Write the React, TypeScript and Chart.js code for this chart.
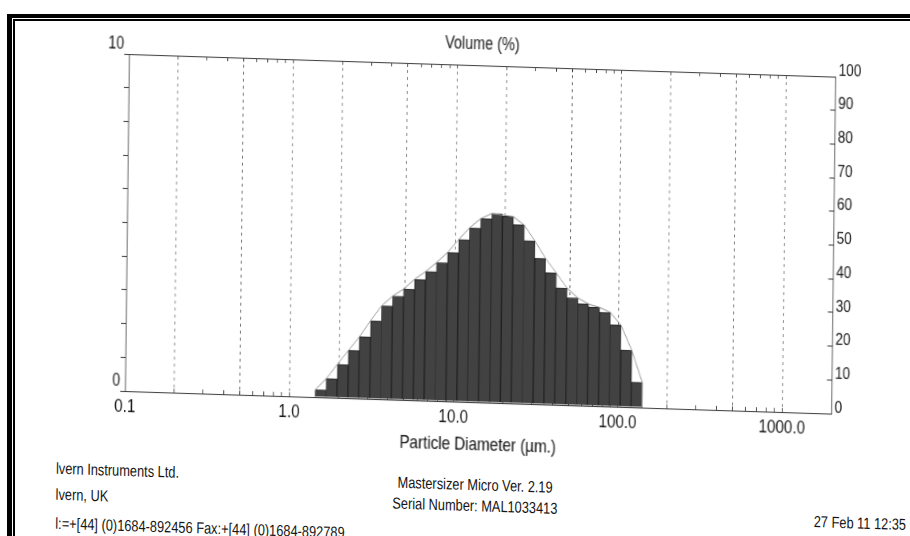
import React, { useEffect, useRef } from "react";
import { Chart, registerables } from "chart.js";

Chart.register(...registerables);

// ---- data ----
// Mastersizer size-band edges (µm)
const BIN_EDGES = [
  1.44, 1.68, 1.95, 2.28, 2.65, 3.09, 3.6, 4.19, 4.88, 5.69, 6.63, 7.72, 9.0,
  10.48, 12.21, 14.22, 16.57, 19.31, 22.49, 26.2, 30.53, 35.56, 41.43, 48.27,
  56.23, 65.51, 76.32, 88.91, 103.58, 120.67, 140.58,
];
// Volume (%) in each band
const VOLUME = [
  0.22, 0.56, 0.99, 1.42, 1.83, 2.32, 2.77, 3.07, 3.29, 3.59, 3.83, 4.11, 4.42,
  4.81, 5.17, 5.45, 5.61, 5.54, 5.3, 4.84, 4.33, 3.91, 3.47, 3.19, 3.02, 2.93,
  2.79, 2.42, 1.69, 0.75,
];
const X_TICKS = [
  0.1, 0.2, 0.3, 0.4, 0.5, 0.6, 0.7, 0.8, 0.9, 1, 2, 3, 4, 5, 6, 7, 8, 9, 10,
  20, 30, 40, 50, 60, 70, 80, 90, 100, 200, 300, 400, 500, 600, 700, 800, 900,
  1000, 2000,
];
const X_GRID = [0.2, 0.5, 1, 2, 5, 10, 20, 50, 100, 200, 500, 1000];
const X_LABELS: Record<string, string> = {
  "0.1": "0.1",
  "1": "1.0",
  "10": "10.0",
  "100": "100.0",
  "1000": "1000.0",
};
const LEFT_TICKS = [0, 1, 2, 3, 4, 5, 6, 7, 8, 9, 10];
const LEFT_LABELS: Record<string, string> = { "0": "0", "10": "10" };
const RIGHT_TICKS = [0, 10, 20, 30, 40, 50, 60, 70, 80, 90, 100];
const Y_TITLE = "Volume (%)";
const X_TITLE = "Particle Diameter (µm.)";
const FOOTER_LEFT = [
  "lvern Instruments Ltd.",
  "lvern, UK",
  "l:=+[44] (0)1684-892456 Fax:+[44] (0)1684-892789",
];
const FOOTER_CENTER = ["Mastersizer Micro Ver. 2.19", "Serial Number: MAL1033413"];
const FOOTER_DATE = "27 Feb 11 12:35";

const FONT = "'Liberation Sans', Arial, sans-serif";
const INK = "#151515";
const AXIS = "#3a3a3a";

const fix = (w?: number, h?: number) => (s: any) => {
  if (w !== undefined) s.width = w;
  if (h !== undefined) s.height = h;
  s.paddingLeft = 0;
  s.paddingRight = 0;
  s.paddingTop = 0;
  s.paddingBottom = 0;
};

function MastersizerChart() {
  const ref = useRef<HTMLCanvasElement | null>(null);
  useEffect(() => {
    if (!ref.current) return;
    Chart.defaults.font.family = FONT;
    Chart.defaults.color = INK;

    const bars = VOLUME.map((v, i) => ({
      x: Math.sqrt(BIN_EDGES[i] * BIN_EDGES[i + 1]),
      y: v,
    }));
    const peak = VOLUME.indexOf(Math.max(...VOLUME));
    const outline = [
      { x: BIN_EDGES[0], y: 0 },
      ...VOLUME.map((v, i) => ({
        x: i <= peak ? BIN_EDGES[i] : BIN_EDGES[i + 1],
        y: v,
      })),
      { x: BIN_EDGES[BIN_EDGES.length - 1], y: 0 },
    ];

    const logTicks = (s: any) => {
      s.ticks = X_TICKS.map((v) => ({ value: v }));
    };

    const chart = new Chart(ref.current, {
      type: "bar",
      data: {
        datasets: [
          {
            type: "line",
            data: outline,
            xAxisID: "x",
            yAxisID: "y",
            borderColor: "#8c8c8c",
            borderWidth: 1,
            pointRadius: 0,
            fill: false,
            tension: 0,
            order: 0,
          } as any,
          {
            type: "bar",
            data: bars,
            xAxisID: "x",
            yAxisID: "y",
            backgroundColor: "#424242",
            borderColor: "#1e1e1e",
            borderWidth: 1,
            barThickness: "flex",
            categoryPercentage: 1,
            barPercentage: 1,
            order: 1,
          } as any,
        ],
      },
      options: {
        responsive: false,
        animation: false,
        events: [],
        layout: { padding: 0 },
        plugins: {
          legend: { display: false },
          title: { display: false },
          tooltip: { enabled: false },
        },
        scales: {
          x: {
            type: "logarithmic",
            position: "bottom",
            min: 0.1,
            max: 2000,
            offset: false,
            afterBuildTicks: logTicks,
            afterFit: fix(undefined, 69),
            grid: {
              offset: false,
              drawOnChartArea: true,
              color: (c: any) =>
                c.tick && X_GRID.includes(c.tick.value) ? "#6e6e6e" : "rgba(0,0,0,0)",
              lineWidth: 1,
              tickColor: AXIS,
              tickLength: -4,
            },
            border: { display: true, color: AXIS, width: 1, dash: [3, 4] },
            ticks: {
              autoSkip: false,
              maxRotation: 0,
              minRotation: 0,
              padding: 8,
              font: { size: 19 },
              color: INK,
              callback: (v: any) => X_LABELS[String(v)] ?? "",
            },
            title: {
              display: true,
              text: X_TITLE,
              font: { size: 19 },
              color: INK,
              padding: { top: 0, bottom: 15 },
            },
          } as any,
          x2: {
            type: "logarithmic",
            position: "top",
            min: 0.1,
            max: 2000,
            offset: false,
            afterBuildTicks: logTicks,
            afterFit: fix(undefined, 54),
            grid: {
              offset: false,
              drawOnChartArea: false,
              tickColor: AXIS,
              tickLength: -4,
            },
            border: { display: true, color: AXIS, width: 1 },
            ticks: { display: false, autoSkip: false },
            title: {
              display: true,
              text: Y_TITLE,
              font: { size: 18 },
              color: INK,
              padding: { top: 22, bottom: 0 },
            },
          } as any,
          y: {
            type: "linear",
            position: "left",
            min: 0,
            max: 10,
            afterBuildTicks: (s: any) => {
              s.ticks = LEFT_TICKS.map((v) => ({ value: v }));
            },
            afterFit: fix(162, undefined),
            grid: {
              drawOnChartArea: false,
              tickColor: AXIS,
              tickLength: 6,
            },
            border: { display: true, color: AXIS, width: 1 },
            ticks: {
              autoSkip: false,
              padding: 0,
              labelOffset: -10,
              font: { size: 18 },
              color: INK,
              callback: (v: any) => LEFT_LABELS[String(v)] ?? "",
            },
          } as any,
          y2: {
            type: "linear",
            position: "right",
            min: 0,
            max: 100,
            afterBuildTicks: (s: any) => {
              s.ticks = RIGHT_TICKS.map((v) => ({ value: v }));
            },
            afterFit: fix(95, undefined),
            grid: {
              drawOnChartArea: false,
              tickColor: AXIS,
              tickLength: -6,
            },
            border: { display: true, color: AXIS, width: 1 },
            ticks: {
              autoSkip: false,
              padding: 10,
              labelOffset: -6,
              font: { size: 17 },
              color: INK,
              callback: (v: any) => String(v),
            },
          } as any,
        },
      } as any,
    });
    return () => chart.destroy();
  }, []);

  return (
    <canvas
      ref={ref}
      width={1140}
      height={460}
      style={{ position: "absolute", left: 0, top: 0, width: 1140, height: 460 }}
    />
  );
}

const textStyle: React.CSSProperties = {
  position: "absolute",
  fontFamily: FONT,
  fontSize: 16,
  lineHeight: "16px",
  color: INK,
  whiteSpace: "nowrap",
};

export default function App() {
  const leftTops = [462.6, 488.6, 517.6];
  const centerTops = [465.8, 486.8];
  return (
    <div
      style={{
        position: "absolute",
        left: 0,
        top: 0,
        width: 910,
        height: 536,
        overflow: "hidden",
        background: "#ffffff",
      }}
    >
      {/* scanned, slightly skewed and condensed print */}
      <div
        style={{
          position: "absolute",
          left: 0,
          top: 0,
          width: 1140,
          height: 540,
          transformOrigin: "0 0",
          transform: "matrix(0.8, 0.0256, -0.012, 1, 0, -4.15)",
        }}
      >
        <MastersizerChart />
        {FOOTER_LEFT.map((t, i) => (
          <div key={"l" + i} style={{ ...textStyle, left: 77, top: leftTops[i] }}>
            {t}
          </div>
        ))}
        {FOOTER_CENTER.map((t, i) => (
          <div
            key={"c" + i}
            style={{
              ...textStyle,
              left: 401,
              width: 400,
              textAlign: "center",
              top: centerTops[i],
            }}
          >
            {t}
          </div>
        ))}
        <div
          style={{
            ...textStyle,
            left: 1005,
            width: 135,
            textAlign: "right",
            top: 491.7,
          }}
        >
          {FOOTER_DATE}
        </div>
      </div>
      {/* double frame */}
      <div style={{ position: "absolute", left: 7, top: 14, width: 903, height: 4, background: "#000" }} />
      <div style={{ position: "absolute", left: 7, top: 14, width: 5, height: 522, background: "#000" }} />
      <div style={{ position: "absolute", left: 13, top: 19, width: 897, height: 2, background: "#000" }} />
      <div style={{ position: "absolute", left: 13, top: 19, width: 2, height: 517, background: "#000" }} />
    </div>
  );
}
